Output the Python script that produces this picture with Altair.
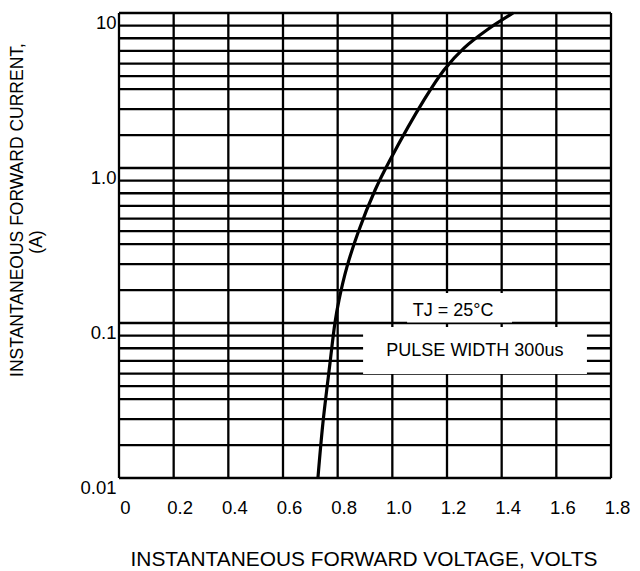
import altair as alt
import pandas as pd

# ---- data ----
curve_v = [0.728, 0.746, 0.772, 0.790, 0.805, 0.834, 0.874, 0.937, 0.992, 1.116, 1.189, 1.262, 1.346, 1.442]
curve_i = [0.0101, 0.0226, 0.0552, 0.100, 0.141, 0.230, 0.381, 0.721, 1.13, 2.75, 4.29, 5.94, 7.77, 10.0]

x_ticks = [0, 0.2, 0.4, 0.6, 0.8, 1.0, 1.2, 1.4, 1.6, 1.8]
y_ticks = [0.01, 0.1, 1, 10]
decades = [0.01, 0.1, 1]
grid_mult = [1, 1.63, 2.40, 3.23, 3.91, 4.71, 5.69, 6.87, 8.28]

# annotation boxes (data coordinates)
box_x1 = [1.054, 0.893]
box_x2 = [1.438, 1.712]
box_y1 = [0.156, 0.0942]
box_y2 = [0.1008, 0.0469]
note_text = ["TJ = 25°C", "PULSE WIDTH 300us"]
note_x = [1.222, 1.302]
note_y = [0.119, 0.0659]

FONT = "Liberation Sans"
W, H = 492, 465

xs = alt.Scale(domain=[0, 1.8], nice=False, zero=False)
ys = alt.Scale(type="log", domain=[0.01, 10], nice=False)

xaxis = alt.Axis(
    values=x_ticks, labelExpr="datum.value == 0 ? '0' : format(datum.value, '.1f')",
    title=None, domain=False, ticks=False, grid=False,
    labelFont=FONT, labelFontSize=18.5, labelColor="black",
    labelPadding=20, labelOffset=6, labelFlush=False)
yaxis = alt.Axis(
    values=y_ticks,
    labelExpr="datum.value >= 10 ? '10' : datum.value >= 1 ? '1.0' : datum.value >= 0.1 ? '0.1' : '0.01'",
    title=None, domain=False, ticks=False, grid=False,
    labelFont=FONT, labelFontSize=18.5, labelColor="black",
    labelPadding=3, labelOffset=9, labelFlush=False)

hgrid_vals = [d * m for d in decades for m in grid_mult] + [10]
hgrid = pd.DataFrame({"y": hgrid_vals, "x0": 0.0, "x1": 1.8})
vgrid = pd.DataFrame({"x": x_ticks, "y0": 0.01, "y1": 10.0})
curve = pd.DataFrame({"v": curve_v, "i": curve_i})
boxes = pd.DataFrame({"x1": box_x1, "x2": box_x2, "y1": box_y1, "y2": box_y2})
notes = pd.DataFrame({"t": note_text, "x": note_x, "y": note_y})

h_layer = alt.Chart(hgrid).mark_rule(color="black", strokeWidth=2.3).encode(
    y=alt.Y("y:Q", scale=ys, axis=yaxis),
    x=alt.X("x0:Q", scale=xs, axis=xaxis),
    x2="x1:Q",
)
v_layer = alt.Chart(vgrid).mark_rule(color="black", strokeWidth=2.3).encode(
    x=alt.X("x:Q", scale=xs, axis=xaxis),
    y=alt.Y("y0:Q", scale=ys, axis=yaxis),
    y2="y1:Q",
)

line = alt.Chart(curve).mark_line(color="black", strokeWidth=3.2, interpolate="catmull-rom").encode(
    x=alt.X("v:Q", scale=xs, axis=xaxis),
    y=alt.Y("i:Q", scale=ys, axis=yaxis),
)

box_layer = alt.Chart(boxes).mark_rect(color="white").encode(
    x=alt.X("x1:Q", scale=xs, axis=xaxis), x2="x2:Q",
    y=alt.Y("y1:Q", scale=ys, axis=yaxis), y2="y2:Q",
)

note_layer = alt.Chart(notes).mark_text(font=FONT, fontSize=18, color="black").encode(
    x=alt.X("x:Q", scale=xs, axis=xaxis),
    y=alt.Y("y:Q", scale=ys, axis=yaxis),
    text="t:N",
)

xtitle = alt.Chart(pd.DataFrame({"t": ["INSTANTANEOUS FORWARD VOLTAGE, VOLTS"]})).mark_text(
    font=FONT, fontSize=20.9, color="black", baseline="middle", align="center"
).encode(x=alt.value(245), y=alt.value(547), text="t:N")

ytitle1 = alt.Chart(pd.DataFrame({"t": ["INSTANTANEOUS FORWARD CURRENT,"]})).mark_text(
    font=FONT, fontSize=17.5, color="black", baseline="middle", align="center", angle=270
).encode(x=alt.value(-101), y=alt.value(197), text="t:N")

ytitle2 = alt.Chart(pd.DataFrame({"t": ["(A)"]})).mark_text(
    font=FONT, fontSize=17.5, color="black", baseline="middle", align="center", angle=270
).encode(x=alt.value(-82), y=alt.value(229), text="t:N")

chart = alt.layer(
    h_layer, v_layer, line, box_layer, note_layer, xtitle, ytitle1, ytitle2
).properties(
    width=W, height=H,
    autosize=alt.AutoSizeParams(type="none"),
    padding={"left": 111, "top": 5, "right": 21, "bottom": 93},
).configure_view(stroke=None).configure(background="white")

chart.save("out.html", embed_options={"renderer": "svg", "actions": False})
